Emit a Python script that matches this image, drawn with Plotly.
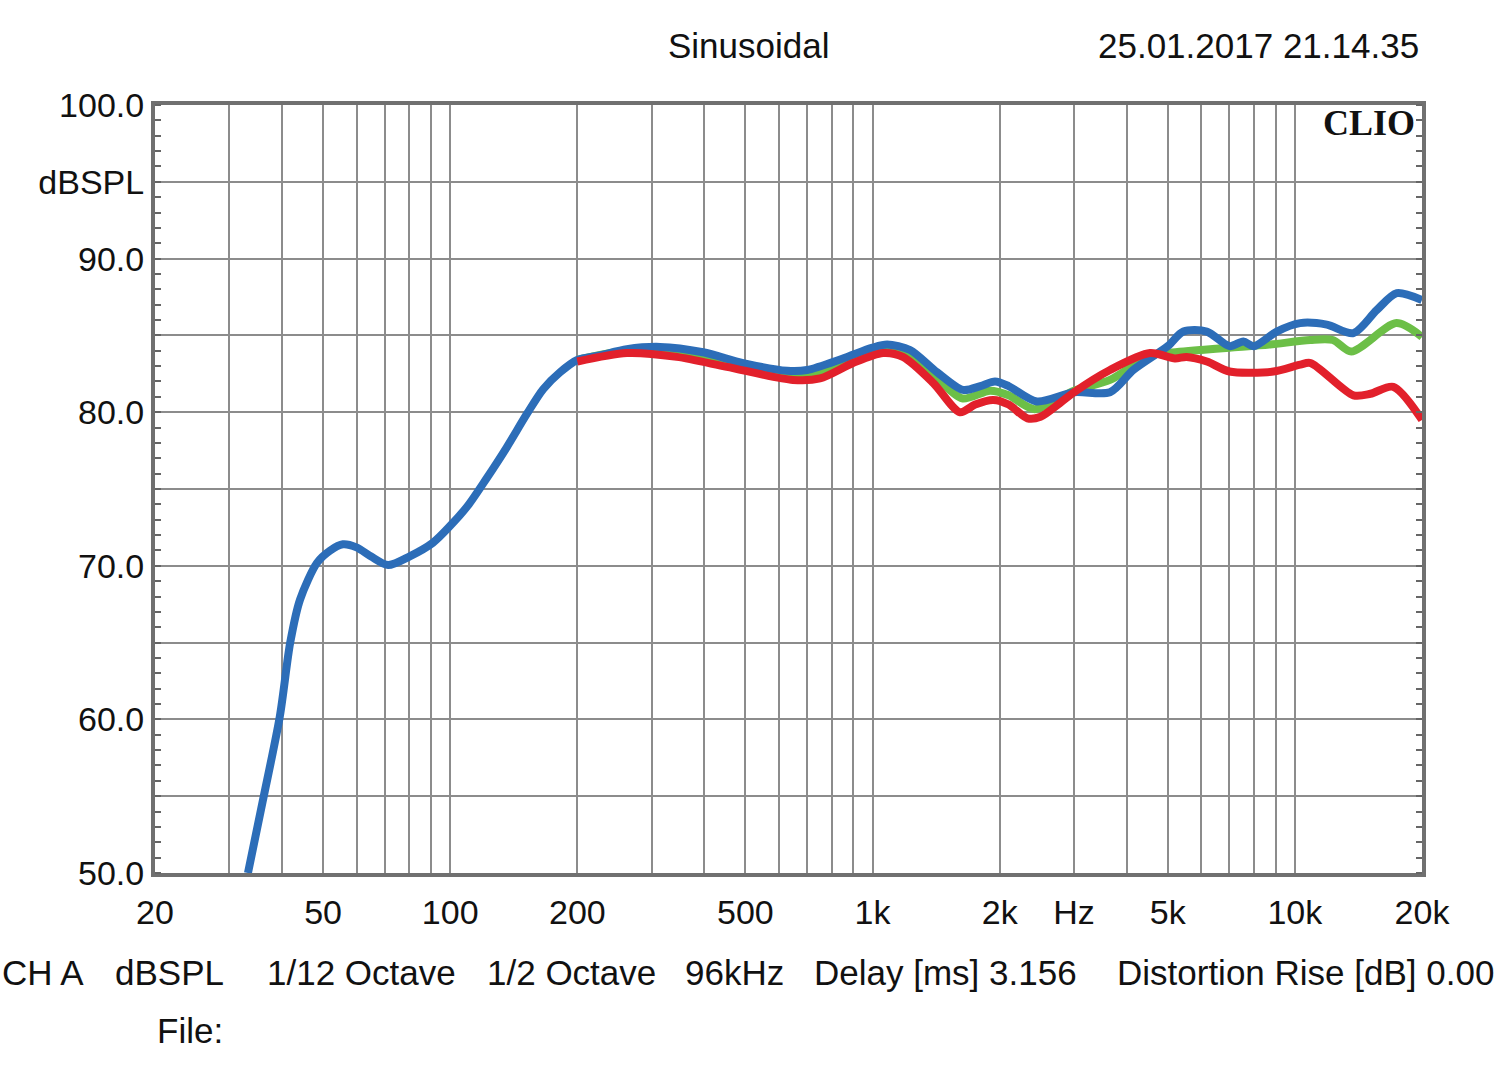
import plotly.graph_objects as go
import math

# ---------------- data ----------------
blue_freq = [33.2, 36, 39.5, 41.8, 44.1, 48.4, 52, 55.7, 60, 65, 71.3, 80, 91, 100, 110, 122, 136, 152,
             166, 182, 200, 226, 262, 314, 397, 494, 628, 700, 851, 1000, 1083, 1227, 1422, 1638, 1800,
             1950, 2100, 2448, 3000, 3650, 4146, 5000, 5445, 6187, 7000, 7551, 8000, 9060, 10287, 11904,
             13760, 15630, 17430, 20000]
blue_db = [50.0, 54.7, 60.2, 65.0, 67.8, 70.2, 71.0, 71.4, 71.2, 70.6, 70.05, 70.6, 71.5, 72.6, 73.9, 75.7,
           77.7, 79.9, 81.5, 82.6, 83.4, 83.7, 84.1, 84.25, 83.9, 83.2, 82.7, 82.75, 83.5, 84.2, 84.4, 84.05,
           82.6, 81.45, 81.7, 82.0, 81.7, 80.7, 81.3, 81.3, 82.75, 84.3, 85.25, 85.25, 84.3, 84.6, 84.3,
           85.25, 85.8, 85.7, 85.15, 86.65, 87.75, 87.3]

green_freq = [200, 262, 344, 452, 648, 751, 899, 1070, 1200, 1410, 1630, 1900, 2100, 2420, 3000, 3650,
              4541, 5000, 6000, 7000, 8700, 10870, 12300, 13600, 17400, 20000]
green_db = [83.4, 84.0, 83.8, 83.1, 82.4, 82.5, 83.4, 84.1, 83.85, 82.3, 80.9, 81.4, 81.1, 80.2, 81.4, 82.1,
            83.7, 83.85, 84.05, 84.2, 84.4, 84.7, 84.7, 83.95, 85.8, 84.9]

red_freq = [200, 262, 344, 452, 648, 751, 899, 1059, 1180, 1393, 1611, 1750, 1930, 2100, 2326, 2500, 2780,
            3000, 3650, 4541, 5200, 5540, 6190, 7000, 8900, 10300, 10900, 13760, 15100, 17100, 20000]
red_db = [83.3, 83.85, 83.6, 82.95, 82.1, 82.2, 83.2, 83.85, 83.6, 81.9, 80.0, 80.5, 80.8, 80.5, 79.6, 79.7,
          80.6, 81.3, 82.75, 83.85, 83.5, 83.6, 83.3, 82.65, 82.65, 83.1, 83.2, 81.1, 81.2, 81.65, 79.5]

x_grid = [20, 30, 40, 50, 60, 70, 80, 90, 100, 200, 300, 400, 500, 600, 700, 800, 900, 1000,
          2000, 3000, 4000, 5000, 6000, 7000, 8000, 9000, 10000, 20000]
x_labels = {20: "20", 50: "50", 100: "100", 200: "200", 500: "500", 1000: "1k", 2000: "2k",
            3000: "Hz", 5000: "5k", 10000: "10k", 20000: "20k"}
y_grid = [50, 55, 60, 65, 70, 75, 80, 85, 90, 95, 100]
y_labels = {50: "50.0", 60: "60.0", 70: "70.0", 80: "80.0", 90: "90.0", 95: "dBSPL", 100: "100.0"}

footer_items = ["CH A", "dBSPL", "1/12 Octave", "1/2 Octave", "96kHz", "Delay [ms] 3.156",
                "Distortion Rise [dB] 0.00"]
footer_x = [0, 113, 265, 485, 683, 812, 1115]

# ---------------- figure ----------------
FONT = "Liberation Sans, Arial, sans-serif"
W, H = 1500, 1074
ML, MR, MT, MB = 155, 78, 105, 201
PW, PH = W - ML - MR, H - MT - MB

fig = go.Figure()
fig.add_trace(go.Scatter(x=green_freq, y=green_db, mode="lines",
                         line=dict(color="#6cbf47", width=8, shape="spline", smoothing=0.8)))
fig.add_trace(go.Scatter(x=blue_freq, y=blue_db, mode="lines",
                         line=dict(color="#2c6db8", width=8, shape="spline", smoothing=0.8)))
fig.add_trace(go.Scatter(x=red_freq, y=red_db, mode="lines",
                         line=dict(color="#e2202b", width=8, shape="spline", smoothing=0.8)))

def px_x(p):
    return (p - ML) / PW

def px_y(p):
    return (H - MB - p) / PH

annotations = [
    dict(text="Sinusoidal", x=px_x(749), y=px_y(45), xanchor="center", yanchor="middle"),
    dict(text="25.01.2017 21.14.35", x=px_x(1421), y=px_y(45), xanchor="right", yanchor="middle"),
    dict(text="File:", x=px_x(155), y=px_y(1030), xanchor="left", yanchor="middle"),
]
for t, xp in zip(footer_items, footer_x):
    annotations.append(dict(text=t, x=px_x(xp), y=px_y(972), xanchor="left", yanchor="middle"))
for a in annotations:
    a.update(xref="paper", yref="paper", showarrow=False,
             font=dict(family=FONT, size=35, color="#111"))
annotations.append(dict(text="<b>CLIO</b>", x=px_x(1417), y=px_y(123), xref="paper", yref="paper",
                        xanchor="right", yanchor="middle", showarrow=False,
                        font=dict(family="Liberation Serif, Times New Roman, serif", size=36, color="#111")))

fig.update_layout(
    width=W, height=H, autosize=False,
    margin=dict(l=ML, r=MR, t=MT, b=MB, pad=0),
    paper_bgcolor="white", plot_bgcolor="white",
    showlegend=False,
    annotations=annotations,
    xaxis=dict(type="log", range=[math.log10(20), math.log10(20000)],
               tickmode="array", tickvals=x_grid,
               ticktext=[x_labels.get(v, "") for v in x_grid],
               showgrid=True, gridcolor="#8c8c8c", gridwidth=2,
               showline=True, linecolor="#707070", linewidth=4, mirror=True,
               ticks="", ticklabelstandoff=6,
               tickfont=dict(family=FONT, size=34, color="#111"),
               zeroline=False, fixedrange=True),
    yaxis=dict(range=[50, 100],
               tickmode="array", tickvals=y_grid,
               ticktext=[y_labels.get(v, "") for v in y_grid],
               showgrid=True, gridcolor="#8c8c8c", gridwidth=2,
               showline=True, linecolor="#707070", linewidth=4, mirror="allticks",
               ticks="", ticklabelstandoff=0,
               minor=dict(tickmode="linear", tick0=0, dtick=1, ticks="inside", ticklen=6,
                          tickwidth=2, tickcolor="#666", showgrid=False),
               tickfont=dict(family=FONT, size=34, color="#111"),
               zeroline=False, fixedrange=True),
)

fig.write_html("out.html")
